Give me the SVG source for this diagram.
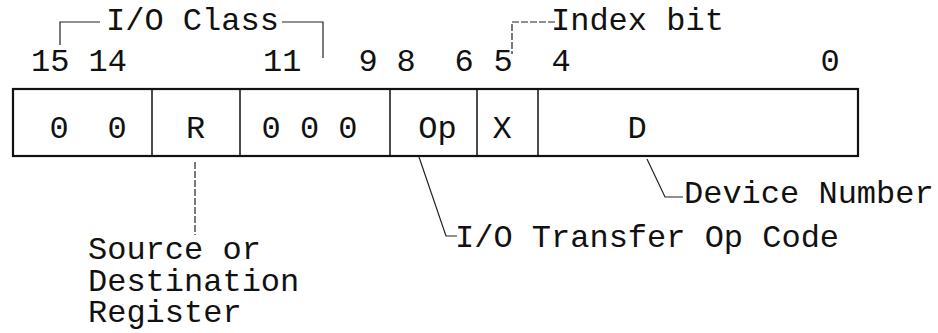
<svg xmlns="http://www.w3.org/2000/svg" width="938" height="333" viewBox="0 0 938 333">
<style>
text{font-family:"Liberation Mono","Courier New",monospace;font-size:32px;fill:#111}
.c{text-anchor:middle}
.box{fill:none;stroke:#111;stroke-width:2.2}
.div{stroke:#111;stroke-width:1.5}
.ld{fill:none;stroke:#222;stroke-width:1.2}
.dash{stroke-dasharray:7 2}
</style>
<rect width="938" height="333" fill="#fff"/>
<g id="bits">
<text x="31" y="71">15 14</text>
<text x="263" y="71">11</text>
<text class="c" x="368" y="71">9</text>
<text class="c" x="406" y="71">8</text>
<text class="c" x="464" y="71">6</text>
<text class="c" x="503" y="71">5</text>
<text class="c" x="561" y="71">4</text>
<text class="c" x="830" y="71">0</text>
</g>
<g id="io-class">
<text x="106" y="30">I/O Class</text>
</g>
<g id="index-bit">
<text x="551" y="30">Index bit</text>
</g>
<g id="word">
<rect class="box" x="13" y="89" width="845" height="67"/>
<line class="div" x1="152" y1="89" x2="152" y2="156"/>
<line class="div" x1="240" y1="89" x2="240" y2="156"/>
<line class="div" x1="390" y1="89" x2="390" y2="156"/>
<line class="div" x1="477" y1="89" x2="477" y2="156"/>
<line class="div" x1="538" y1="89" x2="538" y2="156"/>
</g>
<g id="field-io">
<text class="c" x="59" y="138">0</text>
<text class="c" x="117" y="138">0</text>
</g>
<g id="field-r"><text class="c" x="195.5" y="138">R</text></g>
<g id="field-000"><text class="c" x="309.5" y="138">0 0 0</text></g>
<g id="field-op"><text class="c" x="437.5" y="138">Op</text></g>
<g id="field-x"><text class="c" x="502" y="138">X</text></g>
<g id="field-d"><text class="c" x="637" y="138">D</text></g>
<g id="label-register">
<text x="88" y="259">Source or</text>
<text x="88" y="291">Destination</text>
<text x="88" y="322">Register</text>
</g>
<g id="label-opcode"><text x="455" y="247">I/O Transfer Op Code</text></g>
<g id="label-device"><text x="684" y="203">Device Number</text></g>
<g id="connectors">
<polyline class="ld" points="60,45 60,22 100,22"/>
<polyline class="ld" points="282,22 323,22 323,58"/>
<polyline class="ld dash" points="555,22 512,22 512,54"/>
<line class="ld dash" x1="195" y1="162" x2="195" y2="235"/>
<polyline class="ld" points="419,157 446,236 457,236"/>
<polyline class="ld" points="647,159 665,197 683,197"/>
</g>
</svg>
